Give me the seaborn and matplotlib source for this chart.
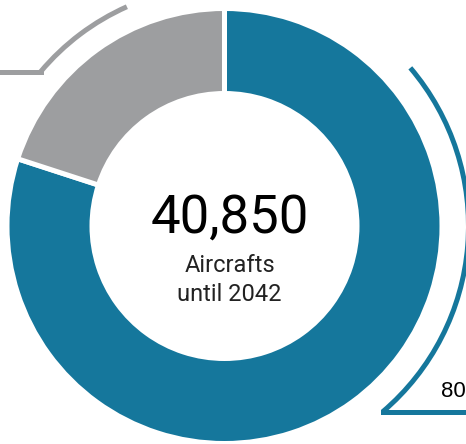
import numpy as np
import matplotlib
matplotlib.use("Agg")
import matplotlib.pyplot as plt
from matplotlib.patches import Arc
import seaborn as sns

# ---- data ----
segments = ["Segment A", "Segment B"]
shares = [80, 20]
seg_colors = ["#15779c", "#9d9ea0"]
total_label = "40,850"
sub_label = ["Aircrafts", "until 2042"]
share_label = "80"

sns.set_theme(style="white")
plt.rcParams['font.family'] = ['Roboto', 'DejaVu Sans']

W, H = 466, 444
fig = plt.figure(figsize=(W / 100, H / 100), dpi=100)
ax = fig.add_axes([0, 0, 1, 1])
ax.set_xlim(0, W)
ax.set_ylim(0, H)
ax.set_aspect("equal")
ax.axis("off")

cx, cy = 224.5, H - 226
R_out, R_in = 215, 135
gap = 5  # px
pt = 72 / 100

ax.pie(shares, colors=seg_colors, startangle=90, counterclock=False,
       center=(cx, cy), radius=R_out + gap / 2,
       wedgeprops=dict(width=R_out - R_in + gap, edgecolor="white",
                       linewidth=gap * pt))
ax.set_xlim(0, W)
ax.set_ylim(0, H)

# brackets
lw = 5 * pt
# blue bracket
rb = 244
t1, t2 = -49.6, 40.4
ax.add_patch(Arc((cx, cy), 2 * rb, 2 * rb, theta1=t1, theta2=t2,
                 color=seg_colors[0], lw=lw, capstyle="butt"))
ex = cx + rb * np.cos(np.radians(t1))
ey = cy + rb * np.sin(np.radians(t1))
ax.plot([ex, W + 10], [ey, ey], color=seg_colors[0], lw=lw,
        solid_capstyle="projecting")
# gray bracket
rg = 240
g1, g2 = 114, 140
ax.add_patch(Arc((cx, cy), 2 * rg, 2 * rg, theta1=g1, theta2=g2,
                 color=seg_colors[1], lw=lw, capstyle="butt"))
gx = cx + rg * np.cos(np.radians(g2))
gy = cy + rg * np.sin(np.radians(g2))
ax.plot([gx, -10], [gy, gy], color=seg_colors[1], lw=lw,
        solid_capstyle="projecting")

# center text
ax.text(cx + 5, H - 233, total_label, ha="center", va="baseline",
        fontsize=38, color="black")
ax.text(cx + 5, H - 272, sub_label[0], ha="center", va="baseline",
        fontsize=17, color="#222222")
ax.text(cx + 5, H - 301, sub_label[1], ha="center", va="baseline",
        fontsize=17, color="#222222")

ax.text(441, H - 397, share_label, ha="left", va="baseline",
        fontsize=16, color="black", family=["Liberation Sans", "DejaVu Sans"])

fig.savefig("out.png", dpi=100)
